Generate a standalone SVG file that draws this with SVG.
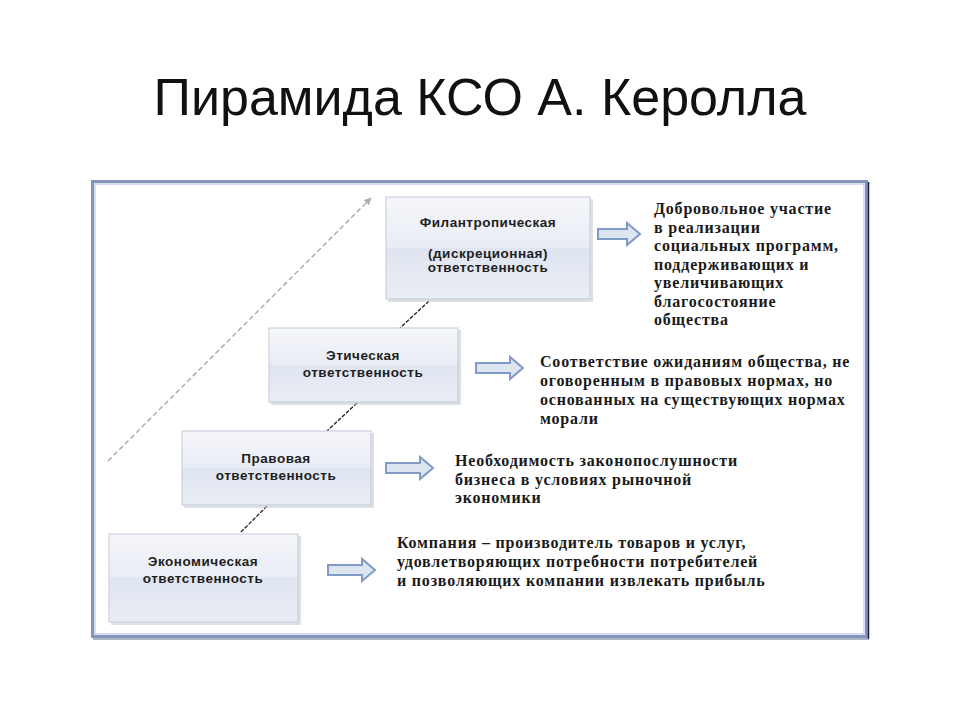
<svg xmlns="http://www.w3.org/2000/svg" width="960" height="720" viewBox="0 0 960 720">
<defs>
<linearGradient id="boxg" x1="0" y1="0" x2="0" y2="1">
<stop offset="0" stop-color="#f6f7fb"/>
<stop offset="0.5" stop-color="#e8ecf4"/>
<stop offset="0.5" stop-color="#dfe5f0"/>
<stop offset="1" stop-color="#e9edf5"/>
</linearGradient>
<marker id="greyhead" viewBox="0 0 10 10" refX="9" refY="5" markerWidth="5" markerHeight="5" orient="auto">
<path d="M0,0 L10,5 L0,10 z" fill="#a8aeb8"/>
</marker>
</defs>
<style>
.box{fill:url(#boxg);stroke:#c3cad6;stroke-width:1}
.shadow{fill:#c9ccd2;opacity:0.6}
.bt{font-family:"Liberation Sans",Arial,sans-serif;font-weight:bold;font-size:13.5px;letter-spacing:0.5px;fill:#1e1e1e;text-anchor:middle}
.dt{font-family:"Liberation Serif","Times New Roman",serif;font-weight:bold;font-size:16px;letter-spacing:0.8px;fill:#1a1a1a}
.blk{fill:#dde5f1;stroke:#7f9bc6;stroke-width:2;stroke-linejoin:miter}
.conn{stroke:#222;stroke-width:1.3;stroke-dasharray:4 1.5;fill:none}
</style>
<rect width="960" height="720" fill="#ffffff"/>
<text x="480" y="115" font-family="'Liberation Sans',Arial,sans-serif" font-size="52" fill="#111" text-anchor="middle">Пирамида КСО А. Керолла</text>

<g id="frame">
<rect x="92.5" y="181.5" width="774" height="455" fill="#ffffff" stroke="#8395bd" stroke-width="3"/>
<rect x="95" y="184" width="769" height="450" fill="none" stroke="#c8d5ec" stroke-width="1.5"/>
<line x1="868.5" y1="182" x2="868.5" y2="639" stroke="#1d2540" stroke-width="1.5"/>
<line x1="93" y1="639" x2="869" y2="639" stroke="#5b6a8c" stroke-width="1"/>
</g>

<g id="connectors">
<line x1="108" y1="461" x2="371" y2="198" stroke="#a8aeb8" stroke-width="1.5" stroke-dasharray="5 3" marker-end="url(#greyhead)"/>
<line class="conn" x1="429" y1="301" x2="400" y2="328"/>
<line class="conn" x1="357" y1="403" x2="327" y2="431"/>
<line class="conn" x1="267" y1="506" x2="240" y2="533"/>
<path class="blk" d="M598,229 L627,229 L627,223 L640,234 L627,245 L627,239 L598,239 Z"/>
<path class="blk" d="M476,363 L510,363 L510,357 L523,368 L510,379 L510,373 L476,373 Z"/>
<path class="blk" d="M386,463 L420,463 L420,457 L433,468 L420,479 L420,473 L386,473 Z"/>
<path class="blk" d="M328,565 L362,565 L362,559 L375,570 L362,581 L362,575 L328,575 Z"/>
</g>

<g id="node-phil">
<rect class="shadow" x="388" y="199" width="205" height="103"/>
<rect class="box" x="386" y="197" width="204" height="102"/>
<text class="bt" x="488" y="227">Филантропическая</text>
<text class="bt" x="488" y="258">(дискреционная)</text>
<text class="bt" x="488" y="272">ответственность</text>
</g>
<g id="node-eth">
<rect class="shadow" x="271" y="330" width="190" height="75"/>
<rect class="box" x="269" y="328" width="189" height="74"/>
<text class="bt" x="363" y="360">Этическая</text>
<text class="bt" x="363" y="377">ответственность</text>
</g>
<g id="node-law">
<rect class="shadow" x="184" y="433" width="190" height="75"/>
<rect class="box" x="182" y="431" width="189" height="74"/>
<text class="bt" x="276" y="463">Правовая</text>
<text class="bt" x="276" y="480">ответственность</text>
</g>
<g id="node-econ">
<rect class="shadow" x="111" y="536" width="190" height="89"/>
<rect class="box" x="109" y="534" width="189" height="88"/>
<text class="bt" x="203" y="566">Экономическая</text>
<text class="bt" x="203" y="583">ответственность</text>
</g>

<g id="desc-phil">
<text class="dt" x="654" y="214">Добровольное участие</text>
<text class="dt" x="654" y="232.5">в реализации</text>
<text class="dt" x="654" y="251">социальных программ,</text>
<text class="dt" x="654" y="269.5">поддерживающих и</text>
<text class="dt" x="654" y="288">увеличивающих</text>
<text class="dt" x="654" y="306.5">благосостояние</text>
<text class="dt" x="654" y="325">общества</text>
</g>
<g id="desc-eth">
<text class="dt" x="540" y="367">Соответствие ожиданиям общества, не</text>
<text class="dt" x="540" y="386">оговоренным в правовых нормах, но</text>
<text class="dt" x="540" y="405">основанных на существующих нормах</text>
<text class="dt" x="540" y="424">морали</text>
</g>
<g id="desc-law">
<text class="dt" x="455" y="466">Необходимость законопослушности</text>
<text class="dt" x="455" y="484.5">бизнеса в условиях рыночной</text>
<text class="dt" x="455" y="503">экономики</text>
</g>
<g id="desc-econ">
<text class="dt" x="397" y="548">Компания – производитель товаров и услуг,</text>
<text class="dt" x="397" y="567">удовлетворяющих потребности потребителей</text>
<text class="dt" x="397" y="586">и позволяющих компании извлекать прибыль</text>
</g>
</svg>
